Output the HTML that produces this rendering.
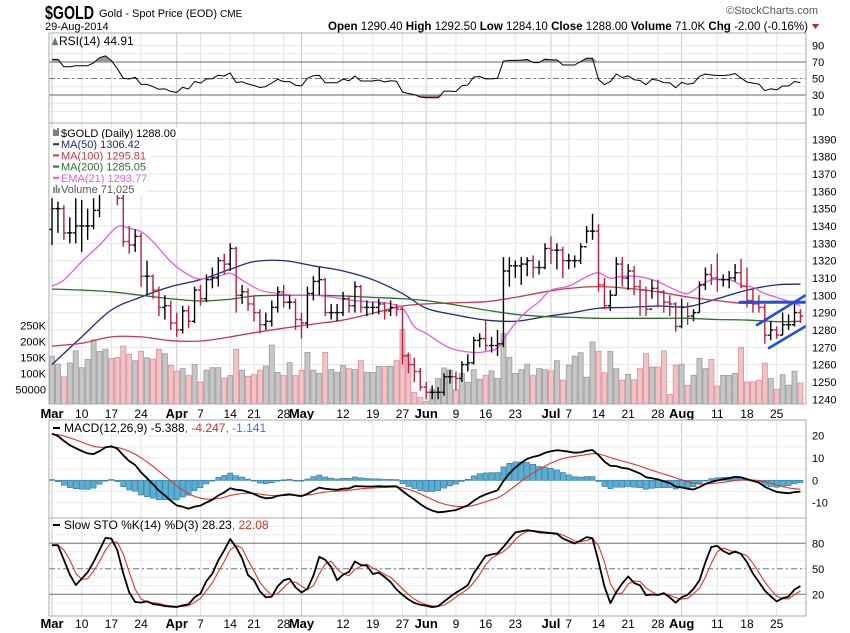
<!DOCTYPE html>
<html><head><meta charset="utf-8"><style>
body{margin:0;background:#fff;}
svg{display:block;font-family:"Liberation Sans",Arial,sans-serif;}
</style></head><body>
<svg id="chart" width="850" height="633" viewBox="0 0 850 633" xmlns="http://www.w3.org/2000/svg">
<rect width="850" height="633" fill="#fff"/>
<g>
<text x="45" y="19" font-size="18" font-weight="bold" fill="#000" textLength="49" lengthAdjust="spacingAndGlyphs">$GOLD</text>
<text x="99" y="17" font-size="11" fill="#000">Gold - Spot Price (EOD) <tspan font-size="10">CME</tspan></text>
<text x="45" y="30" font-size="11" fill="#000">29-Aug-2014</text>
<text x="818" y="14" font-size="11" fill="#555" text-anchor="end">©StockCharts.com</text>
<text x="328" y="30" font-size="12" fill="#000" textLength="480" lengthAdjust="spacingAndGlyphs"><tspan font-weight="bold">Open</tspan> 1290.40 <tspan font-weight="bold">High</tspan> 1292.50 <tspan font-weight="bold">Low</tspan> 1284.10 <tspan font-weight="bold">Close</tspan> 1288.00 <tspan font-weight="bold">Volume</tspan> 71.0K <tspan font-weight="bold">Chg</tspan> -2.00 (-0.16%)</text>
<path d="M812 24 L819 24 L815.5 29 Z" fill="#c02020"/>
</g>
<g id="layer"></g>
</svg>
<script>
const closes=[1350,1350,1336,1336,1340,1340,1340,1349,1370,1380,1372,1356,1331,1329,1334,1311,1311,1303,1293,1294,1284,1280,1291,1285,1303,1298,1309,1310,1320,1318,1327,1300,1302,1295,1290,1283,1285,1293,1302,1296,1296,1286,1284,1301,1308,1309,1290,1290,1290,1298,1294,1305,1293,1293,1293,1295,1291,1293,1292,1265,1260,1256,1247,1244,1244,1244,1253,1253,1252,1260,1261,1274,1275,1271,1271,1272,1314,1317,1317,1318,1320,1316,1316,1327,1326,1326,1320,1320,1320,1328,1337,1337,1306,1294,1300,1318,1310,1314,1305,1303,1292,1304,1302,1296,1295,1282,1293,1288,1290,1306,1312,1310,1309,1309,1310,1313,1305,1297,1295,1293,1277,1280,1277,1283,1283,1290,1288];
const highs=[1356,1354,1352,1345,1356,1355,1350,1356,1375,1385,1388,1372,1358,1340,1338,1336,1320,1312,1305,1300,1297,1290,1294,1294,1305,1306,1312,1316,1322,1324,1330,1328,1306,1304,1300,1292,1290,1297,1305,1306,1300,1298,1290,1305,1311,1316,1310,1295,1295,1302,1300,1308,1306,1297,1296,1298,1296,1297,1295,1293,1267,1264,1258,1250,1248,1247,1255,1257,1256,1262,1266,1276,1278,1286,1276,1280,1322,1322,1320,1322,1322,1323,1320,1330,1334,1330,1328,1324,1323,1330,1340,1347,1341,1310,1303,1322,1322,1318,1317,1309,1305,1309,1309,1303,1300,1296,1298,1296,1292,1308,1316,1318,1324,1312,1314,1318,1321,1316,1304,1300,1295,1285,1282,1290,1289,1297,1292];
const lows=[1329,1336,1332,1330,1330,1325,1332,1338,1345,1365,1368,1352,1328,1324,1325,1305,1300,1298,1288,1286,1280,1276,1278,1281,1284,1294,1296,1304,1305,1312,1314,1290,1295,1291,1285,1278,1280,1282,1290,1293,1292,1280,1275,1281,1297,1300,1288,1286,1285,1288,1290,1290,1290,1288,1289,1289,1286,1288,1288,1260,1255,1250,1245,1240,1240,1240,1242,1249,1245,1250,1256,1260,1270,1268,1267,1265,1270,1305,1310,1306,1311,1310,1312,1315,1318,1315,1310,1315,1316,1318,1330,1332,1302,1292,1291,1300,1305,1303,1300,1288,1288,1298,1293,1290,1288,1279,1281,1283,1285,1290,1303,1306,1302,1305,1304,1308,1304,1293,1290,1290,1272,1274,1275,1277,1280,1282,1284];
const volumes=[154,129,89,133,171,118,144,206,169,176,147,150,186,160,140,169,149,145,176,162,125,107,115,93,128,72,110,118,118,85,93,176,110,91,96,110,123,189,103,93,134,93,110,166,110,100,166,112,103,125,115,112,140,103,103,122,122,122,140,238,160,40,25,12,50,84,117,110,49,100,71,112,82,94,108,84,225,150,100,112,129,93,115,112,108,140,79,126,154,165,88,199,169,102,169,115,79,97,80,115,162,120,120,171,34,126,129,62,94,147,115,144,60,94,94,100,181,73,73,78,132,84,50,96,63,107,69];
const maIdx=[0,5,10,15,20,25,30,34,39,44,49,54,59,63,68,73,78,83,87,92,97,102,107,112,117,122,126];
const ma50=[1260,1276,1291.5,1299,1305,1309,1315,1319.4,1320,1317,1314,1309,1301,1292.5,1288.6,1285.7,1285,1287.7,1289.6,1292.5,1293,1293.8,1293.4,1298,1303,1306,1306.4];
const ma100=[1270.7,1272.3,1276,1276,1273.8,1273.6,1276,1278.4,1281,1283.4,1285.7,1289.6,1293.8,1295,1295.7,1296.3,1298.8,1302,1304,1305,1304,1302,1299,1296.9,1295.3,1296.5,1295.8];
const ma200=[1303.6,1303,1302,1300,1298,1296.7,1297.7,1299.6,1300,1300,1299.6,1298.8,1298,1296.9,1294.4,1291.5,1289,1287.7,1287.3,1286.7,1286.7,1286.7,1286.7,1286,1285.7,1284.8,1285];
const emaIdx=[0,2,5,8,11,13,15,17,20,23,25,28,30,32,35,38,41,44,47,50,53,56,59,61,63,66,68,71,73,75,76,78,80,82,84,87,90,92,94,96,99,102,105,107,109,111,114,116,118,120,123,126];
const ema21=[1305.3,1308.8,1319.4,1329,1339.6,1338.6,1336.7,1331,1319.4,1311.7,1309.4,1311,1312.7,1308.8,1303,1301,1300,1300,1299,1297.3,1296.3,1295.7,1292.5,1281.9,1278,1271.3,1268.5,1267,1267.5,1269.4,1274.6,1283.8,1291,1296.3,1303,1305.3,1310.7,1313,1309.8,1311,1310.7,1307.8,1303,1301,1305.3,1308.8,1309,1306,1304.6,1301,1297.7,1294];
const dateTicks=[[0,"Mar",1],[5,"10",0],[10,"17",0],[15,"24",0],[21,"Apr",1],[25,"7",0],[30,"14",0],[34,"21",0],[39,"28",0],[42,"May",1],[49,"12",0],[54,"19",0],[59,"27",0],[63,"Jun",1],[68,"9",0],[73,"16",0],[78,"23",0],[84,"Jul",1],[87,"7",0],[92,"14",0],[97,"21",0],[102,"28",0],[106,"Aug",1],[112,"11",0],[117,"18",0],[122,"25",0]];
const priceTicks=[1240,1250,1260,1270,1280,1290,1300,1310,1320,1330,1340,1350,1360,1370,1380,1390];
const volTicks=[[250,"250K"],[200,"200K"],[150,"150K"],[100,"100K"],[50,"50000"]];
const rsiTicks=[10,30,50,70,90];
const macdTicks=[20,10,0,-10];
const stoTicks=[20,50,80];
const seedClose=1338, rsiSeedGain=5.6, rsiSeedLoss=2.4, ema12Seed=1343, ema26Seed=1321, signalSeed=20.5;

const NS="http://www.w3.org/2000/svg";
const L=49,R=806;
const X=i=>52+i*5.94;
const PY=p=>139.3+(1390-p)*1.733;
const VY=v=>405.2-v*0.318;
const RY=r=>62+(70-r)*0.825;
const MY=m=>480.3-m*2.23;
const SY=s=>611.3-s*0.85;
const layer=document.getElementById('layer');
function mk(tag,attrs,parent){const e=document.createElementNS(NS,tag);for(const k in attrs)e.setAttribute(k,attrs[k]);(parent||layer).appendChild(e);return e;}
function txt(x,y,s,attrs,parent){const t=mk('text',Object.assign({x:x,y:y,'font-size':11},attrs||{}),parent);t.textContent=s;return t;}
function poly(pts,stroke,w,parent,dash){return mk('polyline',{points:pts.map(p=>p[0].toFixed(1)+','+p[1].toFixed(1)).join(' '),fill:'none',stroke:stroke,'stroke-width':w||1.2,'stroke-dasharray':dash||'none','stroke-linejoin':'round'},parent);}
function smooth(idx,vals,fx,fy){const pts=idx.map((d,k)=>[fx(d),fy(vals[k])]);let s='M'+pts[0][0]+','+pts[0][1];for(let k=1;k<pts.length;k++){const p0=pts[k-2]||pts[k-1],p1=pts[k-1],p2=pts[k],p3=pts[k+1]||p2;s+=' C'+(p1[0]+(p2[0]-p0[0])/6)+','+(p1[1]+(p2[1]-p0[1])/6)+' '+(p2[0]-(p3[0]-p1[0])/6)+','+(p2[1]-(p3[1]-p1[1])/6)+' '+p2[0]+','+p2[1];}return s;}

const defs=mk('defs',{});
[['clipRsi',33,123],['clipMain',123,404],['clipMacd',420,518],['clipSto',518,616]].forEach(c=>{const cp=mk('clipPath',{id:c[0]},defs);mk('rect',{x:L,y:c[1],width:R-L,height:c[2]-c[1]},cp);});

function panel(name,y0,y1){const g=mk('g',{});
 for(const t of dateTicks){mk('line',{x1:X(t[0]),x2:X(t[0]),y1:y0,y2:y1,stroke:t[2]?'#c8c8c8':'#e2e2e2','stroke-width':1},g);}
 return g;}

// RSI
const gR=panel('rsi-panel',33,123);
for(let v=10;v<=90;v+=10){mk('line',{x1:L,x2:R,y1:RY(v),y2:RY(v),stroke:'#e6e6e6'},gR);}
mk('line',{x1:L,x2:R,y1:RY(70),y2:RY(70),stroke:'#666'},gR);
mk('line',{x1:L,x2:R,y1:RY(30),y2:RY(30),stroke:'#666'},gR);
mk('line',{x1:L,x2:R,y1:RY(50),y2:RY(50),stroke:'#777','stroke-dasharray':'6,3,2,3'},gR);
rsiTicks.forEach(v=>{const t=txt(812,RY(v)+4,String(v),{fill:'#000'},gR);});
let ag=rsiSeedGain,al=rsiSeedLoss;const rsi=[];
closes.forEach((c,i)=>{const d=c-(i?closes[i-1]:seedClose);ag=(ag*13+Math.max(d,0))/14;al=(al*13+Math.max(-d,0))/14;rsi.push(100-100/(1+ag/al));});
const rsiPts=rsi.map((v,i)=>[X(i),RY(v)]);
const gRc=mk('g',{'clip-path':'url(#clipRsi)'},gR);
const ob=mk('path',{d:'M'+X(0)+','+RY(70)+' '+rsiPts.map(p=>'L'+p[0]+','+Math.min(p[1],RY(70))).join(' ')+' L'+X(126)+','+RY(70)+'Z',fill:'#9a9a9a'},gRc);

const os=mk('path',{d:'M'+X(0)+','+RY(30)+' '+rsiPts.map(p=>'L'+p[0]+','+Math.max(p[1],RY(30))).join(' ')+' L'+X(126)+','+RY(30)+'Z',fill:'#b07878'},gRc);

const rl=poly(rsiPts,'#000',1,gRc);
mk('rect',{x:L,y:33,width:R-L,height:90,fill:'none',stroke:'#aaa'},gR);
mk('path',{d:'M52,45 L55,37 L58,45 Z',fill:'#5a7a5a'},gR);
const rt=txt(59,45,'RSI(14) 44.91',{fill:'#000','font-size':12},gR);

// Main
const gM=panel('price-panel',123,404);
priceTicks.forEach(p=>{mk('line',{x1:L,x2:R,y1:PY(p),y2:PY(p),stroke:'#e6e6e6'},gM);const t=txt(812,PY(p)+4,String(p),{fill:'#000'},gM);});
volTicks.forEach(v=>{const t=txt(46,VY(v[0])+4,v[1],{fill:'#000','text-anchor':'end'},gM);});
const gMc=mk('g',{'clip-path':'url(#clipMain)'},gM);
volumes.forEach((v,i)=>{const down=i>0&&closes[i]<closes[i-1];const b=mk('rect',{x:X(i)-2.5,y:VY(v),width:5,height:Math.max(0,404-VY(v)),fill:down?'#f1c3c6':'#c6c6c6',stroke:down?'#d88f96':'#9a9a9a','stroke-width':0.8},gMc);
 });
const maDefs=[[ma50,maIdx,'#1c2a80','ma50-line'],[ma100,maIdx,'#c8384e','ma100-line'],[ma200,maIdx,'#2a6e2a','ma200-line'],[ema21,emaIdx,'#e45ce4','ema21-line']];
maDefs.forEach(m=>{const p=mk('path',{d:smooth(m[1],m[0],X,PY),fill:'none',stroke:m[2],'stroke-width':1.3},gMc);});
closes.forEach((c,i)=>{const o=i?closes[i-1]:seedClose;const col=(i>0&&c<closes[i-1])?'#b8203e':'#000';const x=X(i);
 const g=mk('g',{stroke:col,'stroke-width':1.4},gMc);
 mk('line',{x1:x,x2:x,y1:PY(highs[i]),y2:PY(lows[i])},g);
 mk('line',{x1:x-2.6,x2:x,y1:PY(o),y2:PY(o)},g);
 mk('line',{x1:x,x2:x+2.6,y1:PY(c),y2:PY(c)},g);});
const ann=mk('g',{stroke:'#1f4fe0','stroke-width':2.6,'stroke-linecap':'round'},gMc);
mk('line',{x1:740,y1:PY(1296),x2:806,y2:PY(1296),'stroke-width':3},ann);
mk('line',{x1:757,y1:325,x2:806,y2:295},ann);
mk('line',{x1:769,y1:348,x2:806,y2:326},ann);
mk('rect',{x:L,y:123,width:R-L,height:281,fill:'none',stroke:'#aaa'},gM);
const leg=mk('g',{},gM);
const legItems=[['$GOLD (Daily) 1288.00','#000',122],['MA(50) 1306.42','#1c2a80',84],['MA(100) 1295.81','#c8384e',90],['MA(200) 1285.05','#2a6e2a',90],['EMA(21) 1293.77','#e45ce4',88],['Volume 71,025','#555',86]];
legItems.forEach((it,k)=>{const y=137+k*11.2;mk('rect',{x:50,y:y-9.5,width:it[2]+10,height:11.5,fill:'#fff'},leg);
 if(k===0){mk('path',{d:'M54,'+(y-8)+' v7 M56,'+(y-7)+' v6 M58,'+(y-9)+' v8',stroke:'#000','stroke-width':1},leg);}
 else if(k===5){mk('path',{d:'M54,'+(y-6)+' v6 M56.5,'+(y-8)+' v8 M59,'+(y-5)+' v5',stroke:'#777','stroke-width':1.6},leg);}
 else{mk('line',{x1:53,x2:59,y1:y-4,y2:y-4,stroke:it[1],'stroke-width':2},leg);}
 const t=txt(61,y,it[0],{fill:it[1]},leg);});

function dateAxis(y,name){const g=mk('g',{});
 dateTicks.forEach(t=>{const e=txt(X(t[0]),y,t[1],{'text-anchor':'middle',fill:'#000','font-size':t[2]?13:12,'font-weight':t[2]?'bold':'normal'},g);});}
dateAxis(418,'date-axis-top');
dateAxis(628,'date-axis-bottom');

// MACD
const gD=panel('macd-panel',420,518);
for(let v=-10;v<=20;v+=5){mk('line',{x1:L,x2:R,y1:MY(v),y2:MY(v),stroke:'#ececec'},gD);}
macdTicks.forEach(v=>{const t=txt(812,MY(v)+4,String(v),{fill:'#000'},gD);});
let e12=ema12Seed,e26=ema26Seed,sg=signalSeed;const macd=[],sig=[];
closes.forEach(c=>{e12=e12+(c-e12)*2/13;e26=e26+(c-e26)*2/27;const m=e12-e26;sg=sg+(m-sg)*0.2;macd.push(m);sig.push(sg);});
const gDc=mk('g',{'clip-path':'url(#clipMacd)'},gD);
macd.forEach((m,i)=>{const h=m-sig[i];const y=Math.min(MY(0),MY(h));const b=mk('rect',{x:X(i)-2.5,y:y,width:5,height:Math.max(0.8,Math.abs(MY(h)-MY(0))),fill:'#5aafd6',stroke:'#2f7ea6','stroke-width':0.7},gDc);
 });
const sl=poly(sig.map((v,i)=>[X(i),MY(v)]),'#e0352b',1.1,gDc);
const ml=poly(macd.map((v,i)=>[X(i),MY(v)]),'#000',1.8,gDc);
mk('rect',{x:L,y:420,width:R-L,height:98,fill:'none',stroke:'#aaa'},gD);
mk('rect',{x:50,y:421,width:230,height:12,fill:'#fff'},gD);
mk('line',{x1:53,x2:60,y1:428,y2:428,stroke:'#000','stroke-width':2},gD);
const mt=txt(64,432,'MACD(12,26,9) -5.388',{fill:'#000','font-size':12},gD);
const ts1=mk('tspan',{fill:'#d03020'},mt);ts1.textContent=', -4.247';
const ts2=mk('tspan',{fill:'#3a7ac0'},mt);ts2.textContent=', -1.141';

// Slow Stochastic
const gS=panel('stochastic-panel',518,616);
for(let v=10;v<=100;v+=10){mk('line',{x1:L,x2:R,y1:SY(v),y2:SY(v),stroke:'#ececec'},gS);}
mk('line',{x1:L,x2:R,y1:SY(80),y2:SY(80),stroke:'#777'},gS);
mk('line',{x1:L,x2:R,y1:SY(20),y2:SY(20),stroke:'#777'},gS);
mk('line',{x1:L,x2:R,y1:SY(50),y2:SY(50),stroke:'#777','stroke-dasharray':'6,3,2,3'},gS);
stoTicks.forEach(v=>{const t=txt(812,SY(v)+4,String(v),{fill:'#000'},gS);});
const fastK=closes.map((c,i)=>{const s=Math.max(0,i-13);const hh=Math.max(...highs.slice(s,i+1)),ll=Math.min(...lows.slice(s,i+1));return hh>ll?(c-ll)/(hh-ll)*100:50;});
const sma3=a=>a.map((v,i)=>{const s=a.slice(Math.max(0,i-2),i+1);return s.reduce((x,y)=>x+y,0)/s.length;});
const slowK=sma3(fastK),slowD=sma3(slowK);
const gSc=mk('g',{'clip-path':'url(#clipSto)'},gS);
const dl=poly(slowD.map((v,i)=>[X(i),SY(v)]),'#e0352b',1.1,gSc);
const kl=poly(slowK.map((v,i)=>[X(i),SY(v)]),'#000',1.8,gSc);
mk('rect',{x:L,y:518,width:R-L,height:98,fill:'none',stroke:'#aaa'},gS);
mk('line',{x1:53,x2:60,y1:525,y2:525,stroke:'#000','stroke-width':2},gS);
const st=txt(64,529,'Slow STO %K(14) %D(3) 28.23',{fill:'#000','font-size':12},gS);
const ts3=mk('tspan',{fill:'#d03020'},st);ts3.textContent=', 22.08';
</script>
</body></html>
